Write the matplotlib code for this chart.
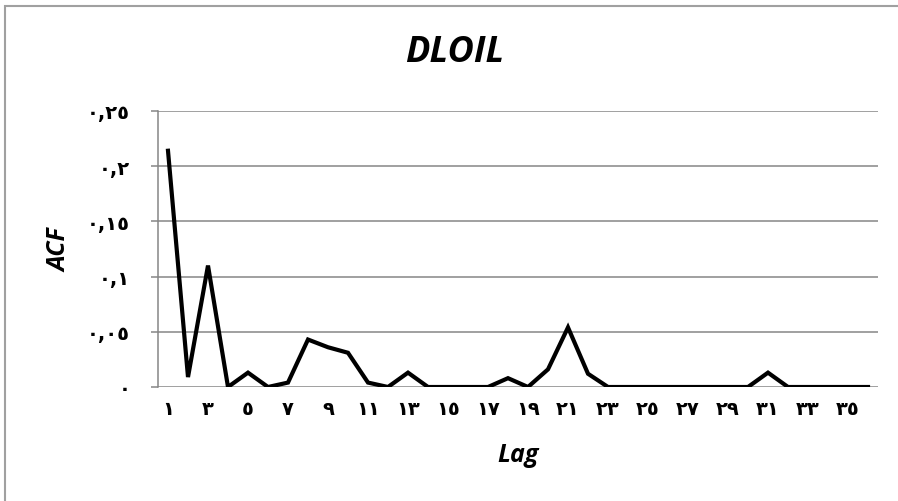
import numpy as np
import matplotlib
matplotlib.use("Agg")
import matplotlib.pyplot as plt
from matplotlib.patches import Rectangle

# === DATA ===
lags = np.arange(1, 37)
acf = [0.214, 0.009, 0.110, 0.0, 0.013, 0.0, 0.004, 0.043, 0.036, 0.031,
       0.004, 0.0, 0.013, 0.0, 0.0, 0.0, 0.0, 0.008, 0.0, 0.016,
       0.054, 0.012, 0.0, 0.0, 0.0, 0.0, 0.0, 0.0, 0.0, 0.0,
       0.013, 0.0, 0.0, 0.0, 0.0, 0.0]
y_ticks = [0, 0.05, 0.1, 0.15, 0.2, 0.25]
y_tick_labels = ["٠", "٠,٠٥", "٠,١", "٠,١٥", "٠,٢", "٠,٢٥"]
x_tick_pos = list(range(1, 37, 2))
AR_DIGITS = "٠١٢٣٤٥٦٧٨٩"
x_tick_labels = ["".join(AR_DIGITS[int(c)] for c in str(v)) for v in x_tick_pos]

GRID = "#868686"

# === PLOT ===
fig = plt.figure(figsize=(8.98, 5.02), dpi=100)
ax = fig.add_axes([158 / 898, 1 - 388 / 502, 720 / 898, 276 / 502])

ax.plot(lags, acf, color="black", linewidth=3, solid_joinstyle="miter")

ax.set_xlim(0.5, 36.5)
ax.set_ylim(0, 0.25)
ax.set_yticks(y_ticks)
ax.set_yticklabels(y_tick_labels, fontfamily="DejaVu Sans", fontweight="bold", fontsize=14)
ax.set_xticks(x_tick_pos)
ax.set_xticklabels(x_tick_labels, fontfamily="DejaVu Sans", fontweight="bold", fontsize=14)

ax.grid(axis="y", color=GRID, linewidth=1.1)
ax.set_axisbelow(True)
for side in ["top", "right", "bottom"]:
    ax.spines[side].set_visible(False)
ax.spines["left"].set_color(GRID)
ax.spines["left"].set_linewidth(1.1)
ax.tick_params(axis="y", length=5, color=GRID, width=1.1, pad=15)
ax.tick_params(axis="x", length=0, pad=9)

fig.text(455 / 898, 1 - 53 / 502, "DLOIL", ha="center", va="center",
         fontsize=26, fontweight="bold", fontstyle="italic", family="Open Sans")
fig.text(60 / 898, 1 - 250 / 502, "ACF", ha="center", va="center", rotation=90,
         fontsize=18, fontweight="bold", fontstyle="italic", family="Open Sans")
fig.text(518 / 898, 1 - 456 / 502, "Lag", ha="center", va="center",
         fontsize=18, fontweight="bold", fontstyle="italic", family="Open Sans")

# outer chart border (partly cropped)
fig.add_artist(Rectangle((5 / 898, -0.1), 1.2, 1.1 - 7 / 502, transform=fig.transFigure,
                         fill=False, edgecolor="#a0a0a0", linewidth=1.5))

fig.savefig("out.png", dpi=100)
